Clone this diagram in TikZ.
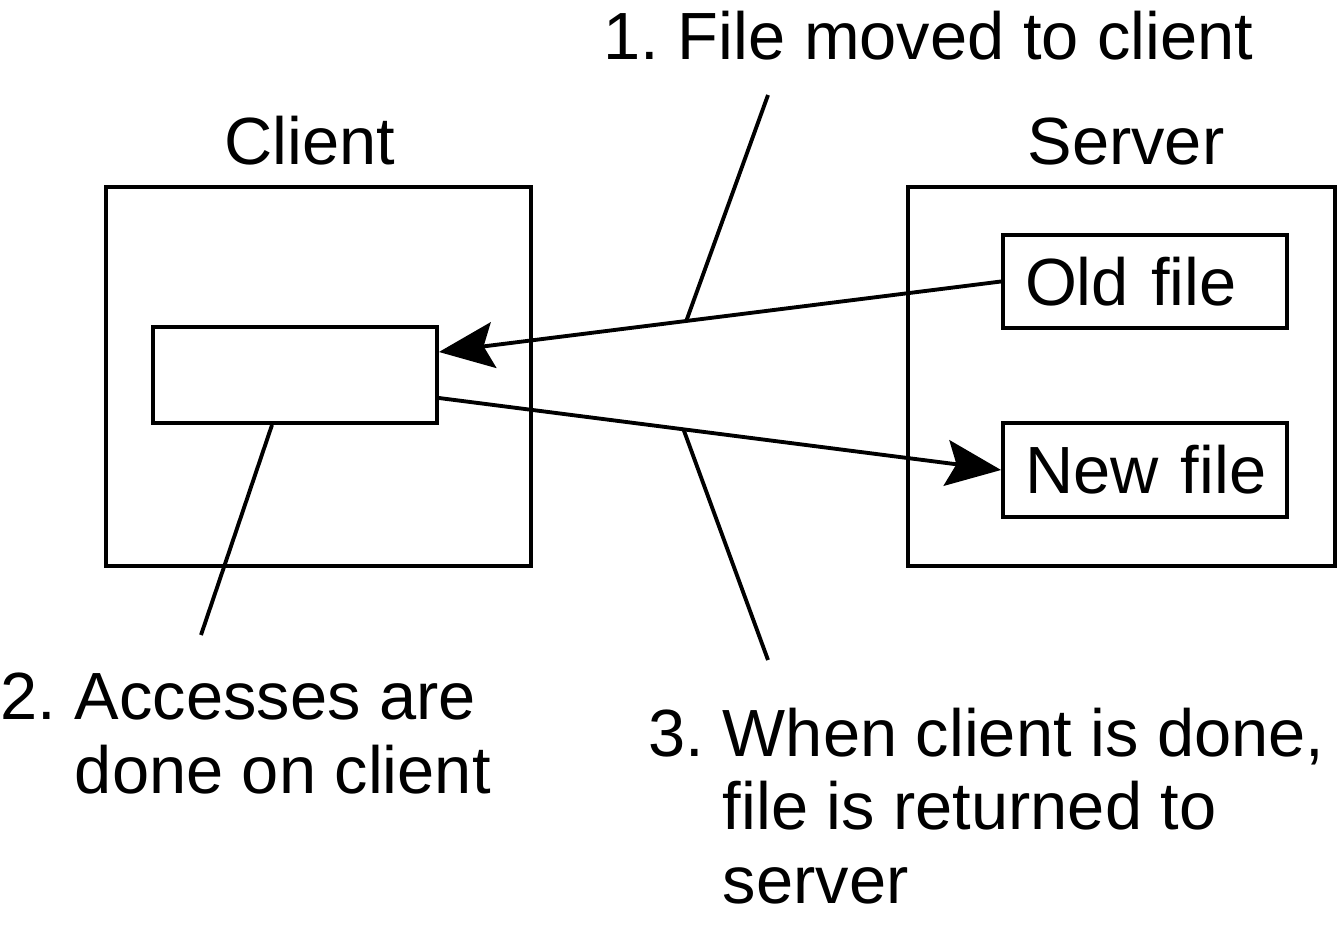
\documentclass[tikz,border=0pt]{standalone}
\usepackage{fontspec}
\setmainfont{Liberation Sans}
\frenchspacing
\usetikzlibrary{arrows.meta}
\tikzstyle{bx}=[draw, line width=1.1pt, inner sep=0pt]
\tikzstyle{fl}=[bx, text width=2.40cm, inner xsep=0.22cm, minimum height=0.93cm, align=left, font=\fontsize{19}{20.8}\selectfont]
\tikzstyle{mv}=[-{Stealth[length=0.55cm,width=0.46cm,inset=0.1cm]}, line width=1.1pt]
\tikzstyle{lead}=[line width=1.1pt]
\tikzstyle{lbl}=[anchor=base west, inner sep=0pt, align=left, font=\fontsize{19}{20.8}\selectfont]

\begin{document}
\begin{tikzpicture}
            \useasboundingbox (0,0) rectangle (13.37,9.35);
            \node[bx, minimum width=4.25cm, minimum height=3.79cm] (client) at (3.185,5.585) {};
            \node[bx, minimum width=4.27cm, minimum height=3.79cm] (server) at (11.215,5.585) {};
            \node[lbl, anchor=base] (clientname) at (3.10,7.70) {Client};
            \node[lbl, anchor=base] (servername) at (11.26,7.70) {Server};
            \node[bx, minimum width=2.84cm, minimum height=0.96cm] (copy) at (2.95,5.60) {};
            \node[fl] (old) at (11.45,6.535) {Old~file};
            \node[fl, minimum height=0.94cm] (new) at (11.45,4.65) {New~file};
            \coordinate (in) at ([yshift=0.23cm]copy.east);
            \coordinate (out) at ([yshift=-0.23cm]copy.east);
            \draw[mv] (old.west) -- (in) coordinate[pos=0.56] (m1);
            \draw[mv] (out) -- (new.west) coordinate[pos=0.435] (m3);
            \coordinate (t1) at (7.68,8.40);
            \coordinate (t2) at (2.01,3.00);
            \coordinate (t3) at (7.68,2.75);
            \draw[lead] (m1) -- (t1);
            \draw[lead] ([xshift=-0.23cm]copy.south) -- (t2);
            \draw[lead] (m3) -- (t3);
            \node[lbl] (step1) at (6.03,8.75) {1. File moved to client};
            \node[lbl] (step2) at (0,1.42) {2. Accesses are\\\phantom{2. }done on client};
            \node[lbl] (step3) at (6.48,0.32) {3. When client is done,\\\phantom{3. }file is returned to\\\phantom{3. }server};
        \end{tikzpicture}
\end{document}
